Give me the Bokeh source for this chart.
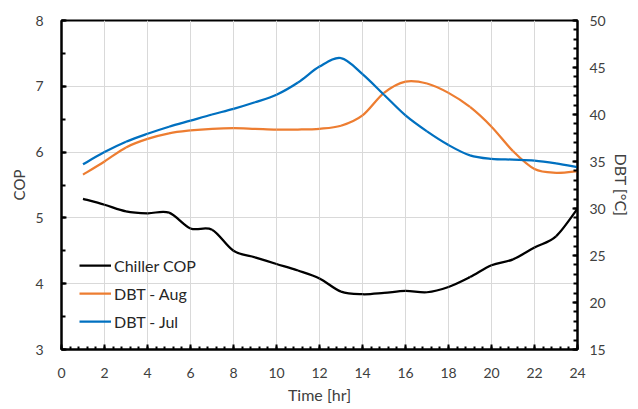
import numpy as np
from bokeh.plotting import figure
from bokeh.models import Range1d, LinearAxis, FixedTicker, Legend, LegendItem, ColumnDataSource
from bokeh.embed import file_html
from bokeh.resources import INLINE

# ---- data ----
hours = list(range(1, 25))
chiller_cop = [5.29, 5.20, 5.10, 5.07, 5.08, 4.84, 4.82, 4.50, 4.40, 4.30, 4.20, 4.08,
               3.88, 3.84, 3.86, 3.89, 3.87, 3.95, 4.10, 4.28, 4.37, 4.55, 4.72, 5.14]
dbt_aug = [33.6, 35.0, 36.5, 37.4, 38.0, 38.3, 38.48, 38.55, 38.48, 38.4, 38.4, 38.48,
           38.8, 39.9, 42.3, 43.5, 43.3, 42.3, 40.8, 38.7, 36.1, 34.2, 33.8, 33.97]
dbt_jul = [34.7, 36.0, 37.1, 37.95, 38.7, 39.35, 40.0, 40.6, 41.3, 42.1, 43.4, 45.1,
           46.0, 44.3, 42.1, 39.9, 38.2, 36.75, 35.65, 35.28, 35.2, 35.1, 34.8, 34.4]

x_ticks = list(range(0, 25, 2))
cop_ticks = [3, 4, 5, 6, 7, 8]
dbt_ticks = [15, 20, 25, 30, 35, 40, 45, 50]

series_names = ["Chiller COP", "DBT - Aug", "DBT - Jul"]
series_colors = ["#000000", "#ED7D31", "#0070C0"]

FONT = "Lato"
TXT = "#404040"


def smooth_source(x, y):
    """Cubic Bezier segments through the data points (Excel-style smoothed line)."""
    x = np.asarray(x, float)
    y = np.asarray(y, float)
    xp = np.concatenate([[x[0]], x, [x[-1]]])
    yp = np.concatenate([[y[0]], y, [y[-1]]])
    k = np.arange(1, len(x))
    return ColumnDataSource(dict(
        x0=xp[k], y0=yp[k], x1=xp[k + 1], y1=yp[k + 1],
        cx0=xp[k] + (xp[k + 1] - xp[k - 1]) / 6.0,
        cy0=yp[k] + (yp[k + 1] - yp[k - 1]) / 6.0,
        cx1=xp[k + 1] - (xp[k + 2] - xp[k]) / 6.0,
        cy1=yp[k + 1] - (yp[k + 2] - yp[k]) / 6.0,
    ))


p = figure(width=634, height=408, output_backend="svg", toolbar_location=None,
           x_range=Range1d(0, 24), y_range=Range1d(3, 8),
           min_border_left=61, min_border_right=57, min_border_top=20, min_border_bottom=59)
p.extra_y_ranges = {"dbt": Range1d(15, 50)}

p.background_fill_color = "white"
p.border_fill_color = "white"
p.outline_line_color = "black"
p.outline_line_width = 2
p.outline_line_alpha = 1

# bottom axis
xa = p.xaxis[0]
xa.ticker = FixedTicker(ticks=x_ticks, minor_ticks=list(np.arange(0, 24.01, 0.4)))
xa.axis_label = "Time [hr]"

# left axis
ya = p.yaxis[0]
ya.ticker = FixedTicker(ticks=cop_ticks, minor_ticks=list(np.arange(3, 8.01, 0.5)))
ya.axis_label = "COP"

# right axis
ra = LinearAxis(y_range_name="dbt", axis_label="DBT [°C]",
                ticker=FixedTicker(ticks=dbt_ticks, minor_ticks=list(range(15, 51))))
p.add_layout(ra, "right")

for ax in (xa, ya, ra):
    ax.axis_line_color = "black"
    ax.axis_line_width = 2
    ax.major_tick_line_color = "black"
    ax.minor_tick_line_color = "black"
    ax.major_tick_line_width = 2
    ax.minor_tick_line_width = 2
    ax.major_tick_out = 0
    ax.minor_tick_out = 0
    ax.major_tick_in = 5
    ax.minor_tick_in = 4
    ax.major_label_text_font = FONT
    ax.major_label_text_font_size = "14px"
    ax.major_label_text_color = TXT
    ax.axis_label_text_font = FONT
    ax.axis_label_text_font_size = "16px"
    ax.axis_label_text_font_style = "normal"
    ax.axis_label_text_color = TXT

ya.axis_label_text_font_size = "15px"
xa.minor_tick_in = 3
xa.major_label_standoff = 18
xa.axis_label_standoff = 4
ya.major_label_standoff = 18
ya.axis_label_standoff = 4
ra.major_label_standoff = 12
ra.axis_label_standoff = 3

p.xgrid.ticker = FixedTicker(ticks=x_ticks)
p.ygrid.ticker = FixedTicker(ticks=cop_ticks)
for g in (p.xgrid[0], p.ygrid[0]):
    g.grid_line_color = "#d9d9d9"
    g.grid_line_width = 1

bez_kw = dict(x0="x0", y0="y0", x1="x1", y1="y1", cx0="cx0", cy0="cy0", cx1="cx1", cy1="cy1")
r_cop = p.bezier(source=smooth_source(hours, chiller_cop), line_color=series_colors[0],
                 line_width=2.25, **bez_kw)
r_aug = p.bezier(source=smooth_source(hours, dbt_aug), line_color=series_colors[1],
                 line_width=2.25, y_range_name="dbt", **bez_kw)
r_jul = p.bezier(source=smooth_source(hours, dbt_jul), line_color=series_colors[2],
                 line_width=2.25, y_range_name="dbt", **bez_kw)

legend = Legend(items=[LegendItem(label=series_names[0], renderers=[r_cop]),
                       LegendItem(label=series_names[1], renderers=[r_aug]),
                       LegendItem(label=series_names[2], renderers=[r_jul])],
                location=(18, 14))
legend.background_fill_alpha = 0
legend.border_line_alpha = 0
legend.padding = 0
legend.margin = 0
legend.spacing = 0
legend.glyph_width = 32
legend.glyph_height = 28
legend.label_height = 28
legend.label_standoff = 3
legend.label_text_font = FONT
legend.label_text_font_size = "16px"
legend.label_text_color = "#262626"
p.add_layout(legend, "center")

open("out.html", "w").write(file_html(p, INLINE))
